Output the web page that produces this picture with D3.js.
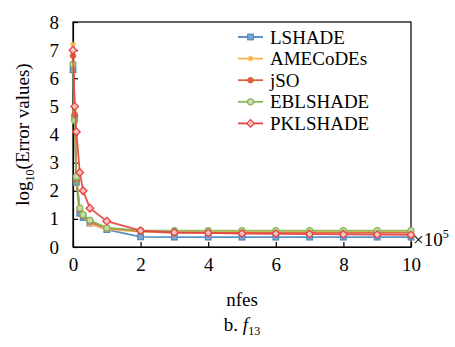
<!DOCTYPE html>
<html>
<head>
<meta charset="utf-8">
<script src="https://cdn.jsdelivr.net/npm/d3@7"></script>
<style>
  body { margin: 0; background: #fff; }
  svg text { font-family: "Liberation Serif", "Times New Roman", serif; }
</style>
</head>
<body>
<div id="chart"></div>
<script>
// nfes in units of 1e5
const nfes = [0, 0.05, 0.1, 0.2, 0.3, 0.5, 1, 2, 3, 4, 5, 6, 7, 8, 9, 10];
const lshade   = [6.3, 4.6, 2.3, 1.2, 1.05, 0.85, 0.62, 0.36, 0.35, 0.35, 0.35, 0.35, 0.35, 0.35, 0.35, 0.35];
const amecodes = [7.2, 4.8, 2.4, 1.35, 1.1, 0.82, 0.63, 0.55, 0.55, 0.55, 0.55, 0.55, 0.55, 0.55, 0.55, 0.55];
const jso      = [6.8, 4.7, 2.4, 1.3, 1.1, 0.9, 0.68, 0.56, 0.5, 0.5, 0.5, 0.5, 0.5, 0.5, 0.5, 0.5];
const eblshade = [6.5, 4.5, 2.5, 1.38, 1.15, 0.95, 0.68, 0.58, 0.58, 0.58, 0.58, 0.58, 0.58, 0.58, 0.58, 0.58];
const pklshade = [7.0, 5.0, 4.1, 2.65, 2.0, 1.38, 0.92, 0.58, 0.52, 0.5, 0.48, 0.47, 0.46, 0.45, 0.44, 0.43];
const xTicks = [0, 2, 4, 6, 8, 10];
const yTicks = [0, 1, 2, 3, 4, 5, 6, 7, 8];

const series = [
    { name: 'LSHADE', values: lshade, color: '#4a86c0', marker: 'square' },
    { name: 'AMECoDEs', values: amecodes, color: '#f2b450', marker: 'star' },
    { name: 'jSO', values: jso, color: '#d8633c', marker: 'dot' },
    { name: 'EBLSHADE', values: eblshade, color: '#8ab556', marker: 'ring' },
    { name: 'PKLSHADE', values: pklshade, color: '#e8403e', marker: 'diamond' }
];

const FONT = '"Liberation Serif", "Times New Roman", serif';
const width = 455, height = 347;
const margin = { left: 73, right: 44, top: 22, bottom: 100 };

const svg = d3.select('#chart').append('svg')
    .attr('width', width)
    .attr('height', height)
    .style('font-family', FONT);

const x = d3.scaleLinear().domain([0, 10]).range([margin.left, width - margin.right]);
const y = d3.scaleLinear().domain([0, 8]).range([height - margin.bottom, margin.top]);

// frame
svg.append('rect')
    .attr('x', x(0)).attr('y', y(8))
    .attr('width', x(10) - x(0)).attr('height', y(0) - y(8))
    .attr('fill', 'none').attr('stroke', '#000').attr('stroke-width', 1.2);

const xAxis = svg.append('g')
    .attr('transform', `translate(0,${y(0)})`)
    .call(d3.axisBottom(x).tickValues(xTicks).tickSizeInner(-5).tickSizeOuter(0).tickPadding(11));
const yAxis = svg.append('g')
    .attr('transform', `translate(${x(0)},0)`)
    .call(d3.axisLeft(y).tickValues(yTicks).tickSizeInner(-5).tickSizeOuter(0).tickPadding(14));

[xAxis, yAxis].forEach(g => {
    g.attr('font-family', null);
    g.select('.domain').attr('stroke', '#000').attr('stroke-width', 1.2);
    g.selectAll('.tick line').attr('stroke', '#000').attr('stroke-width', 1.2);
    g.selectAll('.tick text')
        .style('font-family', FONT)
        .style('font-size', '19px')
        .attr('fill', '#000');
});

const line = d3.line()
    .x((d, i) => x(nfes[i]))
    .y(d => y(d));

function drawMarker(g, type, color, cx, cy) {
    if (type === 'square') {
        g.append('rect').attr('x', cx - 2.8).attr('y', cy - 2.8).attr('width', 5.6).attr('height', 5.6)
            .attr('fill', '#7fa8d6').attr('stroke', color).attr('stroke-width', 1.2);
    } else if (type === 'star') {
        const r = 3;
        g.append('path')
            .attr('d', `M${cx - r},${cy}L${cx + r},${cy}M${cx},${cy - r}L${cx},${cy + r}M${cx - r * 0.7},${cy - r * 0.7}L${cx + r * 0.7},${cy + r * 0.7}M${cx - r * 0.7},${cy + r * 0.7}L${cx + r * 0.7},${cy - r * 0.7}`)
            .attr('stroke', color).attr('stroke-width', 1.2).attr('fill', 'none');
    } else if (type === 'dot') {
        g.append('circle').attr('cx', cx).attr('cy', cy).attr('r', 2.8)
            .attr('fill', color).attr('stroke', color).attr('stroke-width', 1);
    } else if (type === 'ring') {
        g.append('circle').attr('cx', cx).attr('cy', cy).attr('r', 3)
            .attr('fill', '#c9dcae').attr('stroke', color).attr('stroke-width', 1.3);
    } else if (type === 'diamond') {
        const r = 3.8;
        g.append('path')
            .attr('d', `M${cx},${cy - r}L${cx + r},${cy}L${cx},${cy + r}L${cx - r},${cy}Z`)
            .attr('fill', '#f7c4c2').attr('stroke', color).attr('stroke-width', 1.3);
    }
}

const plot = svg.append('g');
series.forEach(s => {
    const g = plot.append('g').attr('class', 'series');
    g.append('path')
        .datum(s.values)
        .attr('d', line)
        .attr('fill', 'none')
        .attr('stroke', s.color)
        .attr('stroke-width', 1.8)
        .attr('stroke-opacity', 0.9);
    s.values.forEach((v, i) => drawMarker(g, s.marker, s.color, x(nfes[i]), y(v)));
});

// legend
const legend = svg.append('g').attr('transform', 'translate(238,37)');
series.forEach((s, i) => {
    const g = legend.append('g').attr('transform', `translate(0,${i * 21.6})`);
    g.append('line').attr('x1', 0).attr('x2', 25).attr('y1', 0).attr('y2', 0)
        .attr('stroke', s.color).attr('stroke-width', 1.8);
    drawMarker(g, s.marker, s.color, 12.5, 0);
    g.append('text').attr('x', 32).attr('y', 0).attr('dy', '0.35em')
        .style('font-family', FONT).style('font-size', '19px').attr('fill', '#000').text(s.name);
});

// x multiplier
const mult = svg.append('text').attr('x', x(10) + 2).attr('y', y(0) - 1)
    .style('font-family', FONT).style('font-size', '19px').attr('fill', '#000');
mult.append('tspan').text('×10');
mult.append('tspan').style('font-size', '12px').attr('dy', -8).text('5');

// axis titles
svg.append('text')
    .attr('x', (x(0) + x(10)) / 2).attr('y', 306)
    .attr('text-anchor', 'middle').style('font-family', FONT).style('font-size', '19px').attr('fill', '#000')
    .text('nfes');

const yt = svg.append('text')
    .attr('transform', `translate(29,${(y(0) + y(8)) / 2}) rotate(-90)`)
    .attr('text-anchor', 'middle').style('font-family', FONT).style('font-size', '19px').attr('fill', '#000');
yt.append('tspan').text('log');
yt.append('tspan').style('font-size', '12px').attr('dy', 5).text('10');
yt.append('tspan').attr('dy', -5).text('(Error values)');

const cap = svg.append('text')
    .attr('x', (x(0) + x(10)) / 2).attr('y', 331)
    .attr('text-anchor', 'middle').style('font-family', FONT).style('font-size', '19px').attr('fill', '#000');
cap.append('tspan').text('b. ');
cap.append('tspan').style('font-style', 'italic').text('f');
cap.append('tspan').style('font-size', '12px').attr('dy', 4).text('13');
</script>
</body>
</html>
